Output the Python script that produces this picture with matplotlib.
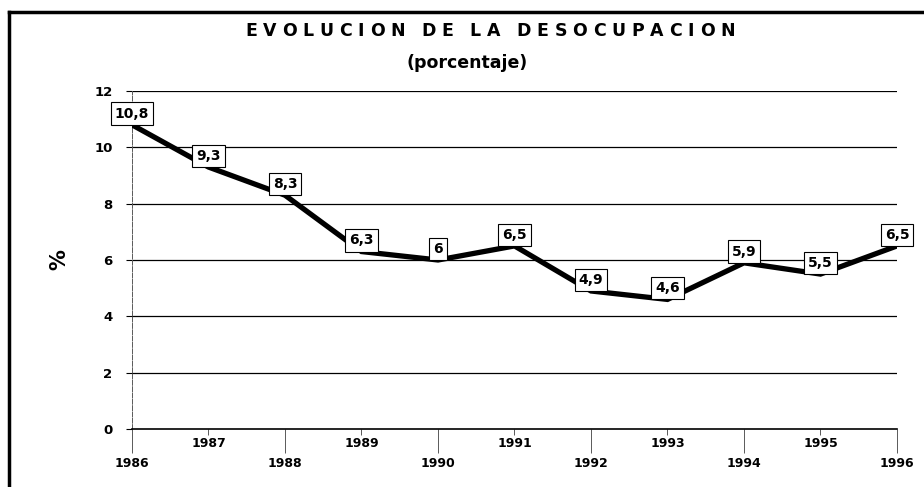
import matplotlib.pyplot as plt
import numpy as np
from matplotlib.lines import Line2D

years = [1986, 1987, 1988, 1989, 1990, 1991, 1992, 1993, 1994, 1995, 1996]
desocupacion = [10.8, 9.3, 8.3, 6.3, 6.0, 6.5, 4.9, 4.6, 5.9, 5.5, 6.5]
value_labels = ["10,8", "9,3", "8,3", "6,3", "6", "6,5", "4,9", "4,6", "5,9", "5,5", "6,5"]
y_ticks = [0, 2, 4, 6, 8, 10, 12]

title = "EVOLUCION DE LA DESOCUPACION"
subtitle = "(porcentaje)"

plt.rcParams["font.family"] = ["DejaVu Sans"]
plt.rcParams["font.weight"] = "bold"


def spaced_text(fig, s, xc, y, spacing, **kw):
    # draw each letter with extra spacing, centred on xc (figure coords)
    renderer = fig.canvas.get_renderer()
    w_fig = fig.bbox.width
    widths = []
    for ch in s:
        t = fig.text(0, 0, ch if ch != " " else "n", **kw)
        widths.append(t.get_window_extent(renderer).width / w_fig)
        t.remove()
    widths = [w * (0.4 if ch == " " else 1.0) for w, ch in zip(widths, s)]
    total = sum(widths) + spacing * (len(s) - 1)
    x = xc - total / 2
    for ch, w in zip(s, widths):
        if ch != " ":
            fig.text(x, y, ch, ha="left", va="center", **kw)
        x += w + spacing


fig = plt.figure(figsize=(9.24, 4.87), dpi=100)
ax = fig.add_axes([132 / 924, 1 - 429 / 487, (897 - 132) / 924, (429 - 91) / 487])

ax.plot(years, desocupacion, color="black", lw=3.8, solid_joinstyle="miter", zorder=3)

for x, y, lab in zip(years, desocupacion, value_labels):
    ax.annotate(lab, (x, y), xytext=(0, 3), textcoords="offset points",
                ha="center", va="bottom", fontsize=10, fontweight="bold", zorder=5,
                bbox=dict(boxstyle="square,pad=0.3", fc="white", ec="black", lw=0.8))

ax.set_xlim(1986, 1996)
ax.set_ylim(0, 12)
ax.set_yticks(y_ticks)
ax.set_yticklabels([str(v) for v in y_ticks], fontsize=9.5, fontweight="bold")
for v in y_ticks[1:]:
    ax.axhline(v, color="black", lw=0.9, zorder=1)

even = [y for y in years if y % 2 == 0]
odd = [y for y in years if y % 2 == 1]
ax.set_xticks(even)
ax.set_xticklabels([str(y) for y in even], fontsize=9, fontweight="bold")
ax.set_xticks(odd, minor=True)
ax.set_xticklabels([str(y) for y in odd], minor=True, fontsize=9, fontweight="bold")
ax.tick_params(axis="x", which="major", length=17, width=0.7, color="0.35", pad=3)
ax.tick_params(axis="x", which="minor", length=4, width=0.7, color="0.35", pad=2)
ax.tick_params(axis="y", length=4, width=0.8, pad=10)

ax.spines["top"].set_visible(False)
ax.spines["right"].set_visible(False)
ax.spines["left"].set_color("0.35")
ax.spines["left"].set_linewidth(0.7)
ax.spines["left"].set_linestyle((0, (5, 1.5)))
ax.spines["bottom"].set_linewidth(1.2)

ax.set_ylabel("%", fontsize=15, fontweight="bold", labelpad=18)

spaced_text(fig, title, 490 / 924, 1 - 31 / 487, 0.0062, fontsize=12.5, fontweight="bold")
fig.text(467 / 924, 1 - 63 / 487, subtitle, ha="center", va="center",
         fontsize=12.5, fontweight="bold")

# frame around the picture (left and top edges)
fig.add_artist(Line2D([9 / 924, 9 / 924], [0.0, 1 - 12 / 487], color="black", lw=2.5))
fig.add_artist(Line2D([9 / 924, 1.0], [1 - 12 / 487, 1 - 12 / 487], color="black", lw=2.5))

fig.savefig("out.png", dpi=100)
